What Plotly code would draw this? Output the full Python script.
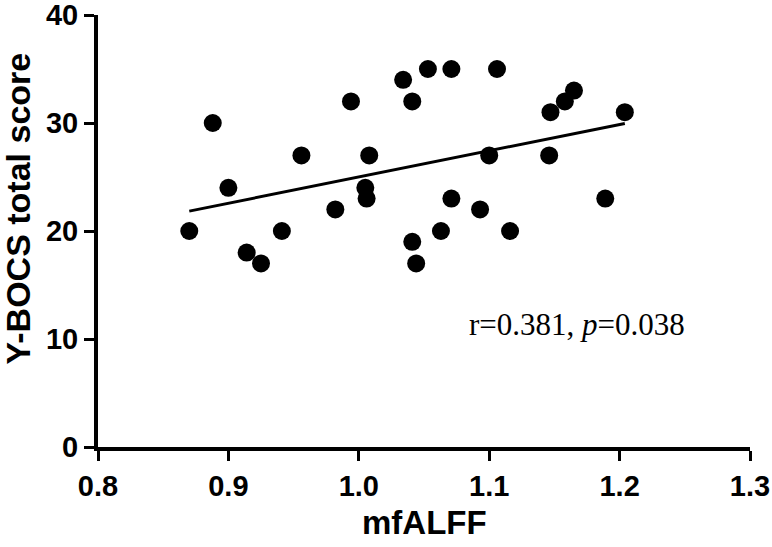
import numpy as np
import plotly.graph_objects as go

#------Data----
mfalff = [0.870, 0.888, 0.900, 0.914, 0.925, 0.941, 0.956, 0.982, 0.994, 1.005,
          1.006, 1.008, 1.034, 1.041, 1.041, 1.044, 1.053, 1.063, 1.071, 1.071,
          1.093, 1.100, 1.106, 1.116, 1.147, 1.146, 1.158, 1.165, 1.189, 1.204]
ybocs = [20, 30, 24, 18, 17, 20, 27, 22, 32, 24,
         23, 27, 34, 32, 19, 17, 35, 20, 35, 23,
         22, 27, 35, 20, 31, 27, 32, 33, 23, 31]

x_ticks = [0.8, 0.9, 1.0, 1.1, 1.2, 1.3]
x_ticklabels = ["0.8", "0.9", "1.0", "1.1", "1.2", "1.3"]
y_ticks = [0, 10, 20, 30, 40]

x_title = "mfALFF"
y_title = "Y-BOCS total score"
stat_text = "r=0.381, <i>p</i>=0.038"

#------Linear fit----
slope, intercept = np.polyfit(mfalff, ybocs, 1)
fit_x = [min(mfalff), max(mfalff)]
fit_y = [slope * v + intercept for v in fit_x]

sans = "Liberation Sans, Arial, sans-serif"

fig = go.Figure()

fig.add_trace(go.Scatter(
    x=fit_x,
    y=fit_y,
    mode="lines",
    line=dict(color="black", width=3),
    hoverinfo="skip",
    showlegend=False
))

fig.add_trace(go.Scatter(
    x=mfalff,
    y=ybocs,
    mode="markers",
    marker=dict(color="black", size=18, line=dict(width=0)),
    showlegend=False
))

# stats text
fig.add_annotation(
    x=1.1675, y=11.3, xref="x", yref="y",
    text=stat_text, showarrow=False,
    font=dict(family="Liberation Serif, Times New Roman, serif", size=31, color="black")
)

# axis titles placed as annotations
fig.add_annotation(
    x=0.5, y=-0.174, xref="paper", yref="paper",
    xanchor="center", yanchor="middle",
    text=x_title, showarrow=False,
    font=dict(family=sans, size=33, color="black", weight="bold")
)
fig.add_annotation(
    x=-0.1227, y=0.552, xref="paper", yref="paper",
    xanchor="center", yanchor="middle", textangle=-90,
    text=y_title, showarrow=False,
    font=dict(family=sans, size=34, color="black", weight="bold")
)

axis_style = dict(
    automargin=False,
    showgrid=False,
    zeroline=False,
    showline=True,
    linecolor="black",
    linewidth=4,
    ticks="outside",
    ticklen=10,
    tickwidth=3,
    tickcolor="black",
    ticklabeloverflow="allow",
    tickfont=dict(family=sans, size=29, color="black", weight="bold"),
)

fig.update_layout(
    width=772,
    height=547,
    margin=dict(l=98, r=22, t=15, b=100),
    paper_bgcolor="white",
    plot_bgcolor="white",
    xaxis=dict(range=[0.8, 1.3], tickvals=x_ticks, ticktext=x_ticklabels, **axis_style),
    yaxis=dict(range=[0, 40], tickvals=y_ticks, **axis_style)
)

fig.write_html("out.html", config={"displayModeBar": False},
               post_script="document.body.style.margin='0';")
